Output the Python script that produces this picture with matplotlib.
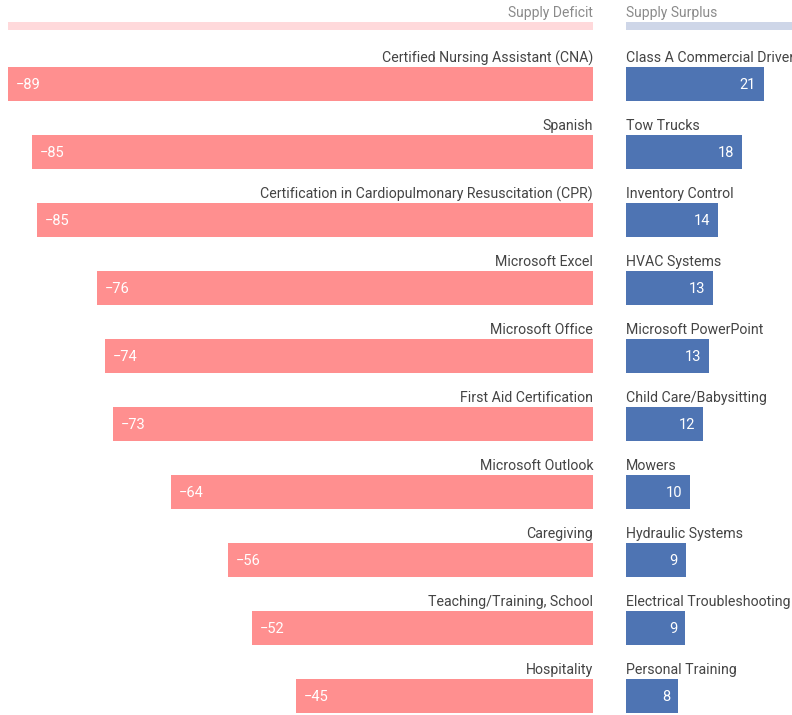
import matplotlib.pyplot as plt

plt.rcParams['font.family'] = ['Roboto', 'DejaVu Sans']

# ---------------- data ----------------
deficit_skills = ["Certified Nursing Assistant (CNA)", "Spanish",
                  "Certification in Cardiopulmonary Resuscitation (CPR)",
                  "Microsoft Excel", "Microsoft Office", "First Aid Certification",
                  "Microsoft Outlook", "Caregiving", "Teaching/Training, School",
                  "Hospitality"]
deficit_values = [-89.0, -85.4, -84.6, -75.5, -74.3, -73.1, -64.2, -55.6, -51.9, -45.2]

surplus_skills = ["Class A Commercial Driver", "Tow Trucks", "Inventory Control",
                  "HVAC Systems", "Microsoft PowerPoint", "Child Care/Babysitting",
                  "Mowers", "Hydraulic Systems", "Electrical Troubleshooting",
                  "Personal Training"]
surplus_values = [21.0, 17.7, 14.0, 13.2, 12.6, 11.7, 9.7, 9.1, 9.0, 7.9]

headers = ["Supply Deficit", "Supply Surplus"]

# ---------------- style ----------------
RED = "#ff8f8f"
RED_LIGHT = "#ffd9db"
BLUE = "#4e74b3"
BLUE_LIGHT = "#ced6e8"
TXT = "#444444"
HDR = "#8a8a8a"

W, H = 792, 715
fig = plt.figure(figsize=(W / 100, H / 100), dpi=100)

ylim = (9.28, -1.235)
ax_l = fig.add_axes([8 / W, 0, (593 - 8) / W, 1])
ax_r = fig.add_axes([626 / W, 0, (W - 626) / W, 1])
scale = 89.0
ax_l.set_xlim(-scale, 0)
ax_r.set_xlim(0, scale * (W - 626) / (593 - 8))

n = len(deficit_values)
ys = list(range(n))

################################# Left panel ###############################
ax_l.barh(ys, deficit_values, height=0.5, color=RED)
ax_l.barh([-0.853], [-scale], height=0.11, color=RED_LIGHT)
ax_l.text(0, -1.05, headers[0], ha="right", va="center", fontsize=10, color=HDR)
for y, name, v in zip(ys, deficit_skills, deficit_values):
    ax_l.text(0, y - 0.38, name, ha="right", va="center", fontsize=10.2, color=TXT)
    ax_l.text(v + 1.2, y + 0.01, "\u2212%d" % round(abs(v)), ha="left", va="center",
              fontsize=10.5, color="white")

################################# Right panel ##############################
xr = ax_r.get_xlim()[1]
ax_r.barh(ys, surplus_values, height=0.5, color=BLUE)
ax_r.barh([-0.853], [xr], height=0.11, color=BLUE_LIGHT)
ax_r.text(0, -1.05, headers[1], ha="left", va="center", fontsize=10, color=HDR)
for y, name, v in zip(ys, surplus_skills, surplus_values):
    ax_r.text(0, y - 0.38, name, ha="left", va="center", fontsize=10.2, color=TXT,
              clip_on=True)
    ax_r.text(v - 1.2, y + 0.01, "%d" % round(v), ha="right", va="center",
              fontsize=10.5, color="white")

for ax in (ax_l, ax_r):
    ax.set_ylim(*ylim)
    ax.axis("off")

fig.savefig("out.png", dpi=100)
